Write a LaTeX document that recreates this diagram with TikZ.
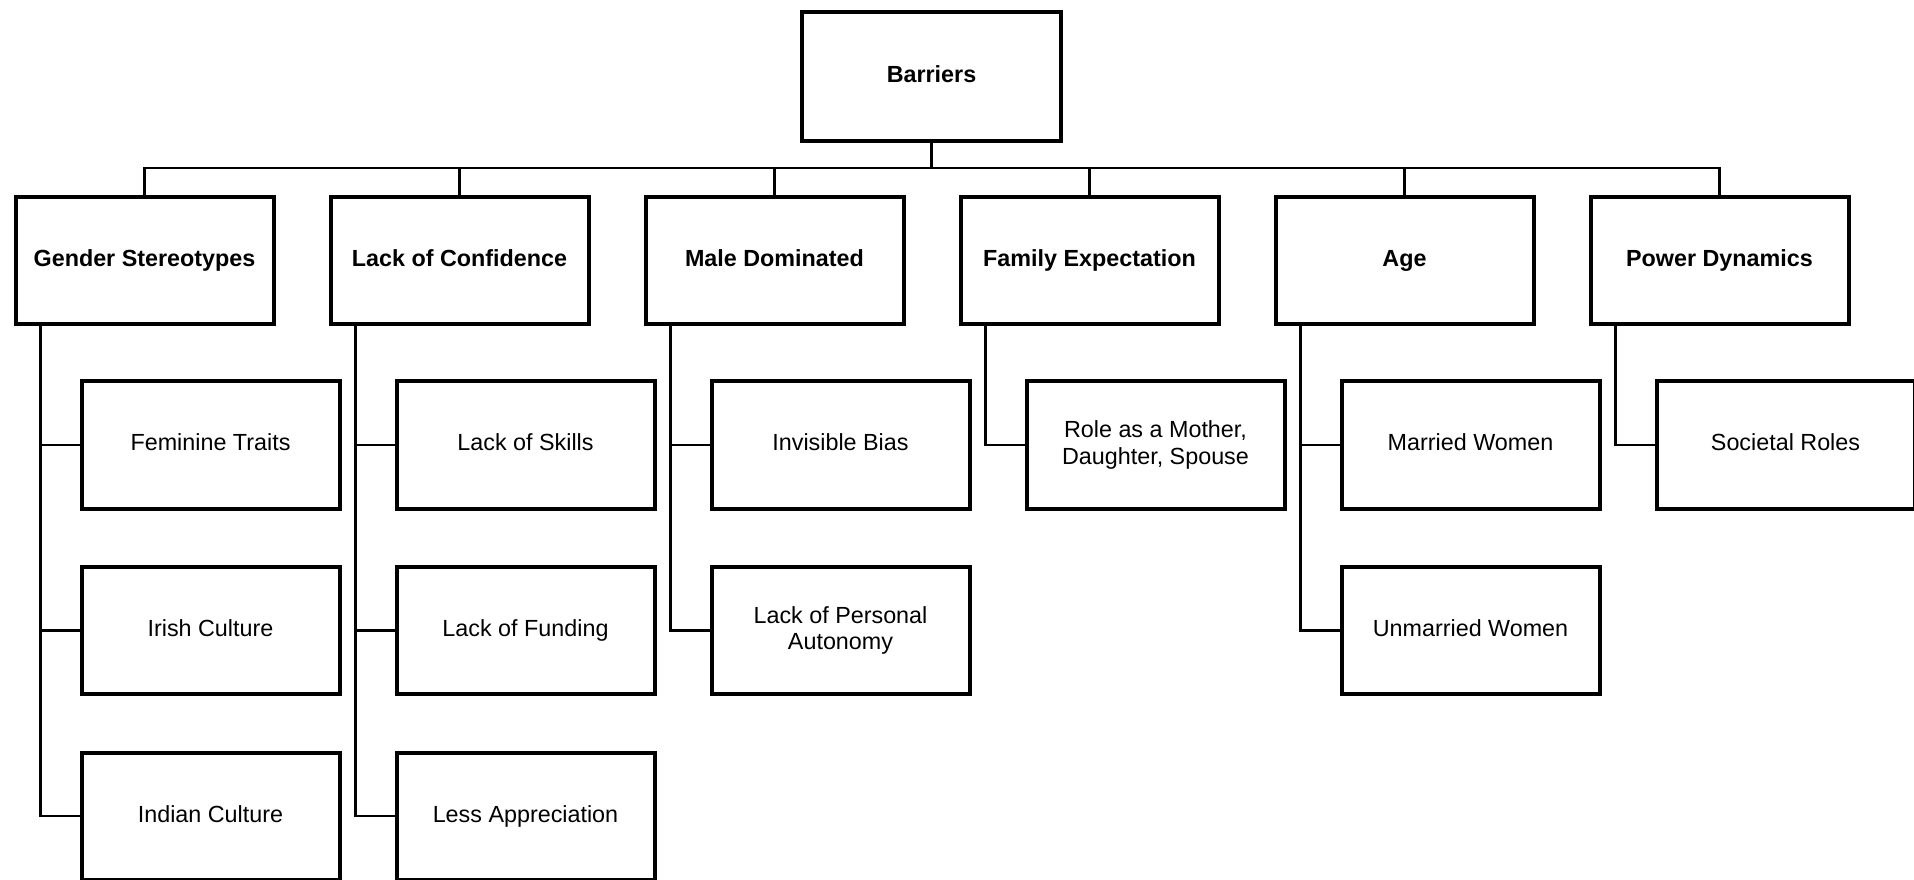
\documentclass[tikz,border=0pt]{standalone}
\usepackage{fontspec}
\setmainfont{Liberation Sans}
\usetikzlibrary{calc}
\newcommand{\pixel}{0.75pt}
\newcommand{\boxfont}{\fontsize{17.5}{20}\selectfont}
\tikzset{
	headbox/.style={draw, line width=3pt, minimum width=194.25pt, minimum height=96.75pt, inner sep=2pt, text height=0.9em, text depth=0em, font=\boxfont\bfseries},
	topbox/.style={draw, line width=3pt, minimum width=193.5pt, minimum height=95.25pt, inner sep=2pt, text height=0.9em, text depth=0em, font=\boxfont\bfseries},
	subbox/.style={draw, line width=3pt, minimum width=193.5pt, minimum height=95.25pt, inner sep=2pt, text height=0.9em, text depth=0em, align=center, font=\boxfont},
	twolines/.style={text height=, text depth=},
	link/.style={line width=2pt}
}
\begin{document}
\begin{tikzpicture}[x=\pixel,y=-\pixel]
	\useasboundingbox (0,0) rectangle (1914,880);
	\node[headbox] (barriers) at (931.5,76.5) {Barriers};

	\node[topbox] (gender) at (144.5,261) {Gender Stereotypes};
	\node[topbox] (confidence) at (459.5,261) {Lack of Confidence};
	\node[topbox] (male) at (774.5,261) {Male Dominated};
	\node[topbox] (family) at (1089.5,261) {Family Expectation};
	\node[topbox] (age) at (1404.5,261) {Age};
	\node[topbox] (power) at (1719.5,261) {Power Dynamics};

	\node[subbox] (feminine) at (210.5,445) {Feminine Traits};
	\node[subbox] (irish) at (210.5,630.5) {Irish Culture};
	\node[subbox] (indian) at (210.5,816) {Indian Culture};
	\node[subbox] (skills) at (525.5,445) {Lack of Skills};
	\node[subbox] (funding) at (525.5,630.5) {Lack of Funding};
	\node[subbox] (appreciation) at (525.5,816) {Less Appreciation};
	\node[subbox] (bias) at (840.5,445) {Invisible Bias};
	\node[subbox, twolines] (autonomy) at (840.5,630.5) {Lack of Personal\\Autonomy};
	\node[subbox, twolines] (role) at (1155.5,445) {Role as a Mother,\\Daughter, Spouse};
	\node[subbox] (married) at (1470.5,445) {Married Women};
	\node[subbox] (unmarried) at (1470.5,630.5) {Unmarried Women};
	\node[subbox] (societal) at (1785.5,445) {Societal Roles};

	\coordinate (bus) at ($(barriers.south)+(0,25)$);
	\coordinate (genderstem) at ($(gender.south west)+(27,0)$);
	\coordinate (confidencestem) at ($(confidence.south west)+(27,0)$);
	\coordinate (malestem) at ($(male.south west)+(27,0)$);
	\coordinate (familystem) at ($(family.south west)+(27,0)$);
	\coordinate (agestem) at ($(age.south west)+(27,0)$);
	\coordinate (powerstem) at ($(power.south west)+(27,0)$);

	\draw[link] (barriers.south) -- (bus);
	\draw[link] (bus) -| (gender.north);
	\draw[link] (bus) -| (confidence.north);
	\draw[link] (bus) -| (male.north);
	\draw[link] (bus) -| (family.north);
	\draw[link] (bus) -| (age.north);
	\draw[link] (bus) -| (power.north);

	\draw[link] (genderstem) |- (feminine.west);
	\draw[link] (genderstem) |- (irish.west);
	\draw[link] (genderstem) |- (indian.west);
	\draw[link] (confidencestem) |- (skills.west);
	\draw[link] (confidencestem) |- (funding.west);
	\draw[link] (confidencestem) |- (appreciation.west);
	\draw[link] (malestem) |- (bias.west);
	\draw[link] (malestem) |- (autonomy.west);
	\draw[link] (familystem) |- (role.west);
	\draw[link] (agestem) |- (married.west);
	\draw[link] (agestem) |- (unmarried.west);
	\draw[link] (powerstem) |- (societal.west);
\end{tikzpicture}
\end{document}
